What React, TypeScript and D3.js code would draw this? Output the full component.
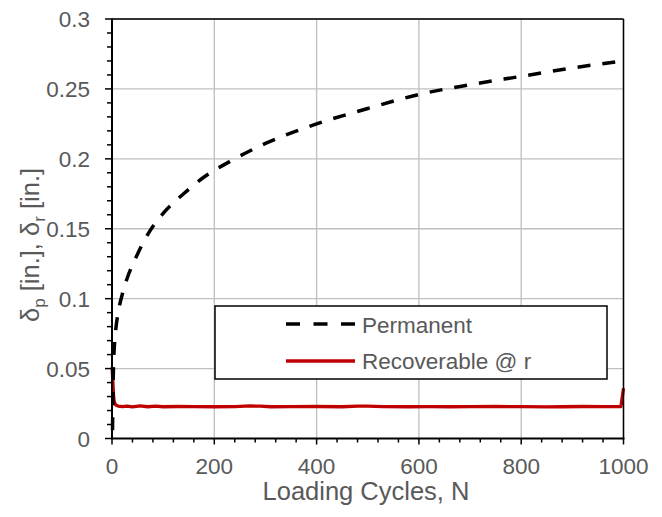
import React from "react";
import * as d3 from "d3";

const permN = [1, 1.5, 2, 3, 5, 8, 12, 20, 30, 45, 70, 100, 140, 180, 230, 300, 400, 500, 600, 700, 800, 900, 1000];
const permV = [0.006, 0.02, 0.035, 0.052, 0.068, 0.08, 0.09, 0.103, 0.115, 0.128, 0.146, 0.161, 0.175, 0.187, 0.198, 0.211, 0.225, 0.236, 0.246, 0.253, 0.259, 0.265, 0.270];

const recN = [0, 1, 2, 3, 4, 6, 8, 12, 20, 30, 40, 55, 70, 85, 100, 130, 160, 200, 240, 270, 290, 310, 350, 400, 450, 480, 500, 530, 580, 620, 660, 700, 750, 800, 850, 880, 920, 960, 995, 1000];
const recV = [0.051, 0.046, 0.038, 0.031, 0.027, 0.0248, 0.0238, 0.0232, 0.0228, 0.0232, 0.0226, 0.0233, 0.0227, 0.0232, 0.0227, 0.0229, 0.0228, 0.0227, 0.0228, 0.0233, 0.0231, 0.0227, 0.0228, 0.0229, 0.0227, 0.0231, 0.0232, 0.0228, 0.0227, 0.0228, 0.0227, 0.0228, 0.0229, 0.0228, 0.0226, 0.0227, 0.0229, 0.0228, 0.0229, 0.036];

const xTicks = [0, 200, 400, 600, 800, 1000];
const yTicks = [0, 0.05, 0.1, 0.15, 0.2, 0.25, 0.3];
const legendLabels = ["Permanent", "Recoverable @ r"];

export default function App() {
  const x = d3.scaleLinear().domain([0, 1000]).range([112, 623.5]);
  const y = d3.scaleLinear().domain([0, 0.3]).range([438.5, 19]);
  const xMinor = d3.range(0, 1001, 40).filter((v) => v % 200 !== 0);
  const yMinor = d3.range(0, 31, 1).map((v) => v / 100).filter((v) => Math.round(v * 100) % 5 !== 0);

  const permPath = d3.line<[number, number]>().x((d) => x(d[0])).y((d) => y(d[1])).curve(d3.curveMonotoneX)(permN.map((n, i) => [n, permV[i]]));
  const recPath = d3.line<[number, number]>().x((d) => x(d[0])).y((d) => y(d[1])).curve(d3.curveLinear)(recN.map((n, i) => [n, recV[i]]));

  const font = "Liberation Sans, Arial, sans-serif";
  const gray = "#595959";
  const [x0, x1] = x.range();
  const [y0, y1] = y.range();

  return (
    <svg width={662} height={517} style={{ position: "absolute", left: 0, top: 0, background: "#fff" }} fontFamily={font}>
      <rect x={0} y={0} width={662} height={517} fill="#fff" />
      {xTicks.slice(1).map((t) => (
        <line key={"gx" + t} x1={x(t)} x2={x(t)} y1={y0} y2={y1} stroke="#BFBFBF" strokeWidth={1.3} />
      ))}
      {yTicks.slice(1).map((t) => (
        <line key={"gy" + t} x1={x0} x2={x1} y1={y(t)} y2={y(t)} stroke="#BFBFBF" strokeWidth={1.3} />
      ))}
      <path d={recPath || ""} fill="none" stroke="#C00000" strokeWidth={3.3} strokeLinejoin="round" />
      <path d={permPath || ""} fill="none" stroke="#000" strokeWidth={3.5} strokeDasharray="13,12" />
      <line x1={x0} x2={x1} y1={y1} y2={y1} stroke="#000" strokeWidth={1.5} />
      <line x1={x1} x2={x1} y1={y1} y2={y0} stroke="#000" strokeWidth={1.5} />
      <line x1={x0} x2={x1 + 1} y1={y0} y2={y0} stroke="#000" strokeWidth={2} />
      <line x1={x0} x2={x0} y1={y1 - 0.5} y2={y0 + 1} stroke="#000" strokeWidth={2} />
      {xTicks.map((t) => (
        <line key={"tx" + t} x1={x(t)} x2={x(t)} y1={y0} y2={y0 + 6} stroke="#000" strokeWidth={1.5} />
      ))}
      {xMinor.map((t) => (
        <line key={"mx" + t} x1={x(t)} x2={x(t)} y1={y0} y2={y0 + 4} stroke="#000" strokeWidth={1.5} />
      ))}
      {yTicks.map((t) => (
        <line key={"ty" + t} x1={x0 - 7} x2={x0} y1={y(t)} y2={y(t)} stroke="#000" strokeWidth={1.5} />
      ))}
      {yMinor.map((t) => (
        <line key={"my" + t} x1={x0 - 5} x2={x0} y1={y(t)} y2={y(t)} stroke="#000" strokeWidth={1.5} />
      ))}
      {xTicks.map((t) => (
        <text key={"lx" + t} x={x(t)} y={474} textAnchor="middle" fontSize={22.5} fill={gray}>{t}</text>
      ))}
      {yTicks.map((t) => (
        <text key={"ly" + t} x={90} y={y(t) + 8} textAnchor="end" fontSize={22.5} fill={gray}>{String(t)}</text>
      ))}
      <text x={366} y={500} textAnchor="middle" fontSize={25.5} fill={gray}>Loading Cycles, N</text>
      <text transform="translate(39,245) rotate(-90)" textAnchor="middle" fontSize={25.5} fill={gray}>
        δ<tspan fontSize={17} dy={6}>p</tspan><tspan dy={-6}> [in.], δ</tspan><tspan fontSize={17} dy={6}>r</tspan><tspan dy={-6}> [in.]</tspan>
      </text>
      <rect x={215} y={306} width={392} height={73} fill="#fff" stroke="#000" strokeWidth={1.5} />
      <line x1={286} x2={355} y1={324} y2={324} stroke="#000" strokeWidth={3.5} strokeDasharray="14,13.5" />
      <line x1={286} x2={355} y1={361} y2={361} stroke="#C00000" strokeWidth={3.3} />
      <text x={362} y={333} fontSize={22.5} fill={gray}>{legendLabels[0]}</text>
      <text x={362} y={369} fontSize={22.5} fill={gray}>{legendLabels[1]}</text>
    </svg>
  );
}
